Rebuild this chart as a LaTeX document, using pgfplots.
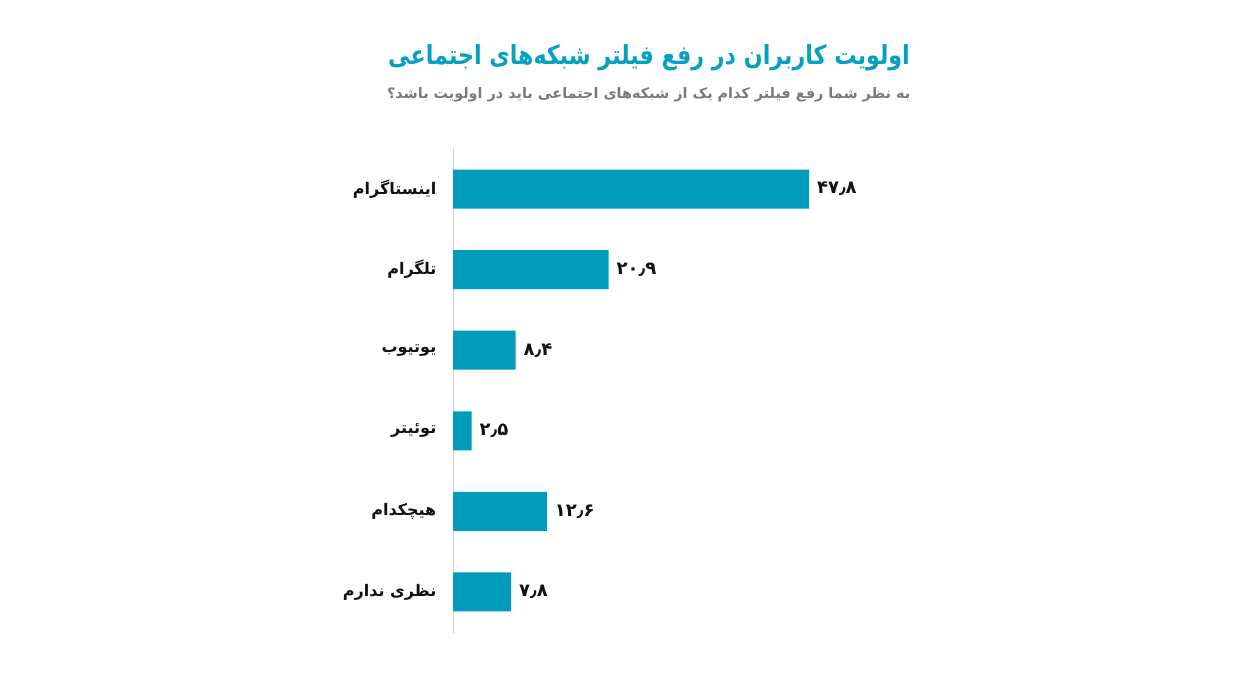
\documentclass[border=0pt]{standalone}
\usepackage{fontspec}
\usepackage{pgfplots}
\pgfplotsset{compat=1.18}
\TeXXeTstate=1
\newfontfamily\arabicfont[Script=Arabic]{DejaVu Sans}
\definecolor{barcol}{HTML}{019CBB}
\definecolor{titlecol}{HTML}{06A1C0}
\definecolor{subcol}{HTML}{7A7A7A}
\definecolor{axcol}{HTML}{D0D0D0}
\definecolor{labcol}{HTML}{111111}
\begin{document}
\begin{tikzpicture}
\path[use as bounding box] (0,0) rectangle (932.25pt,507pt);
\node[anchor=center, xscale=0.925, yscale=1.1, text=titlecol, font=\arabicfont\bfseries\fontsize{18}{22}\selectfont] at (486.75pt,464pt) {\beginR اولویت کاربران در رفع فیلتر شبکه‌های اجتماعی\endR};
\node[anchor=center, text=subcol, font=\arabicfont\bfseries\fontsize{10.8}{13}\selectfont] at (486.5pt,436pt) {\beginR به نظر شما رفع فیلتر کدام یک از شبکه‌های اجتماعی باید در اولویت باشد؟\endR};
\begin{axis}[
  at={(339.75pt,32.25pt)}, anchor=south west,
  scale only axis, width=267pt, height=363.75pt,
  xmin=0, xmax=47.8, ymin=0.49, ymax=6.51,
  xbar, bar width=29.25pt,
  axis x line=none,
  axis y line*=left,
  y axis line style={draw=axcol, line width=0.6pt, -},
  ytick={1,2,3,4,5,6},
  yticklabels={{\beginR نظری ندارم\endR},{\beginR هیچکدام\endR},{\beginR توئیتر\endR},{\beginR یوتیوب\endR},{\beginR تلگرام\endR},{\beginR اینستاگرام\endR}},
  yticklabel style={font=\arabicfont\bfseries\fontsize{12}{14}\selectfont, text=labcol, xshift=-9pt},
  major tick length=0pt,
  clip=false,
  nodes near coords,
  point meta=explicit symbolic,
  nodes near coords style={font=\arabicfont\bfseries\fontsize{13.5}{15}\selectfont, text=labcol, anchor=west, xshift=2.5pt},
]
\addplot[fill=barcol, draw=none] table[x=v, y=i, meta=lab] {
i v lab
6 47.8 ۴۷٫۸
5 20.9 ۲۰٫۹
4 8.4 ۸٫۴
3 2.5 ۲٫۵
2 12.6 ۱۲٫۶
1 7.8 ۷٫۸
};
\end{axis}
\end{tikzpicture}
\end{document}
